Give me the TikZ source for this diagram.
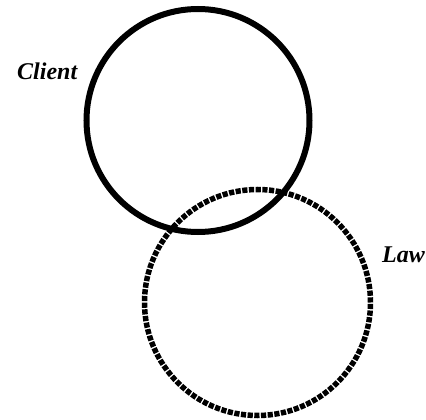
\documentclass[tikz,border=0pt]{standalone}
\usepackage{fontspec}
\setmainfont{Liberation Serif}
\usepackage{tikz}
\usetikzlibrary{positioning}
\tikzstyle{clientring} = [circle, draw=black, line width=6pt, minimum size=223pt, inner sep=0pt]
\tikzstyle{lawring} = [circle, draw=black, line width=5.5pt, dash pattern=on 5.2pt off 1.5pt, minimum size=226pt, inner sep=0pt]
\tikzstyle{ringlabel} = [font=\fontsize{24}{26}\selectfont\bfseries\itshape, inner sep=0pt]

\begin{document}
\begin{tikzpicture}[x=1pt, y=-1pt]
\useasboundingbox (0,0) rectangle (426,420);
\node[clientring] (client) at (198,120.5) {};
\node[lawring] (law) at (257.5,302.5) {};
\node[ringlabel, anchor=base west] (clientlbl) at (17,80) {Client};
\node[ringlabel, anchor=base east] (lawlbl) at (425,262) {Law};
\end{tikzpicture}
\end{document}
